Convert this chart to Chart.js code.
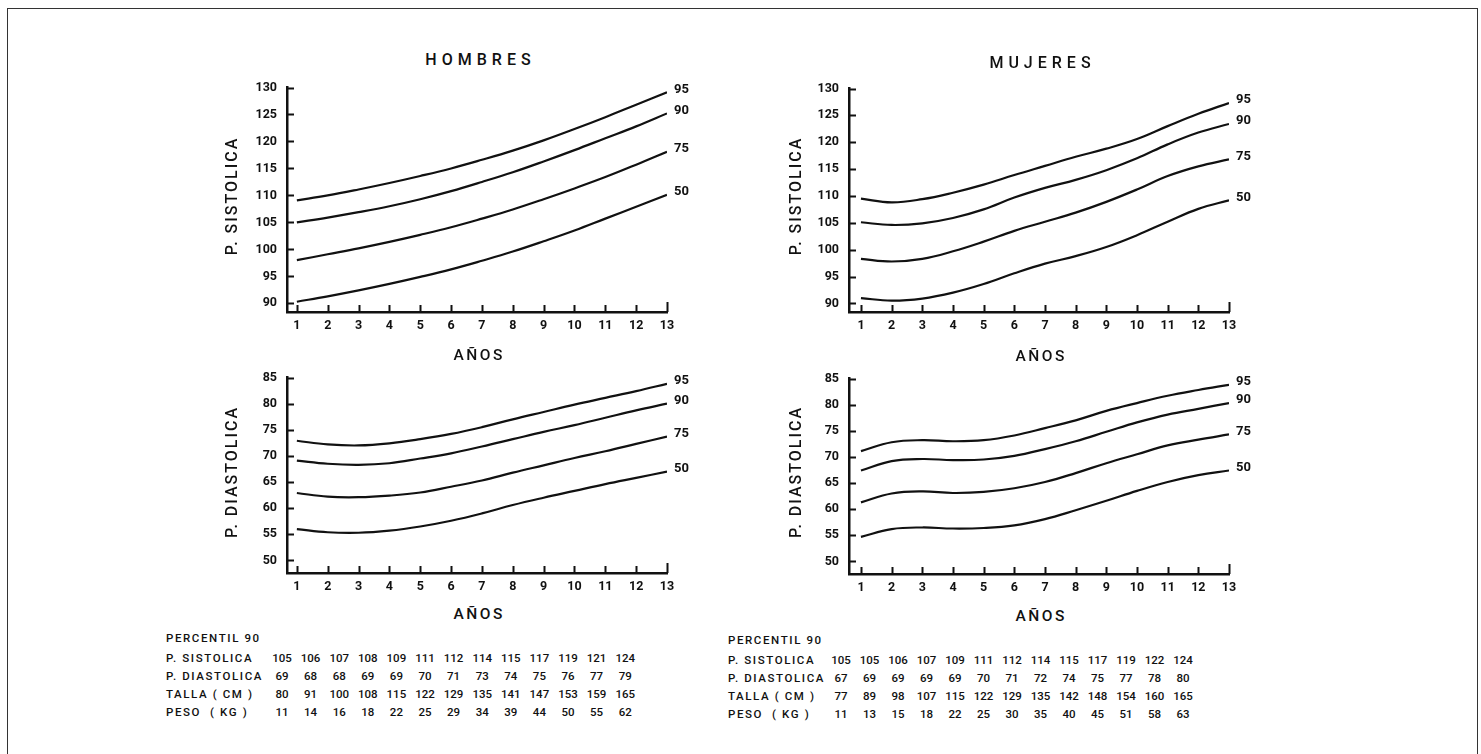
<!DOCTYPE html>
<html>
<head>
<meta charset="utf-8">
<script src="https://cdn.jsdelivr.net/npm/chart.js@4.4.1/dist/chart.umd.min.js"></script>
<style>
    html, body { margin: 0; padding: 0; background: #fff; }
    body { width: 1481px; height: 754px; position: relative; overflow: hidden; font-family: Roboto, "Liberation Sans", Arial, sans-serif; color: #111; }
    #frame { position: absolute; left: 7px; top: 8px; width: 1471px; height: 760px; border: 1.5px solid #333; box-sizing: border-box; }
    canvas { position: absolute; }
    .lbl { position: absolute; white-space: nowrap; transform: translate(-50%, -50%); }
    .title { font-size: 16px; font-weight: 500; letter-spacing: 5px; padding-left: 5px; }
    .axis { font-size: 15.5px; font-weight: 500; letter-spacing: 2.5px; padding-left: 2.5px; }
    .ytitle { font-size: 16px; font-weight: 500; letter-spacing: 2px; padding-left: 2px; transform: translate(-50%, -50%) rotate(-90deg); }
    .trow { position: absolute; font-size: 11.5px; font-weight: 500; letter-spacing: 1.6px; white-space: pre; transform: translateY(-50%); }
    .tnum { position: absolute; font-size: 11.5px; font-weight: 500; white-space: nowrap; transform: translate(-50%, -50%); }
</style>
</head>
<body>
<div id="frame"></div>
<canvas id="hombres-sis"></canvas>
<canvas id="mujeres-sis"></canvas>
<canvas id="hombres-dia"></canvas>
<canvas id="mujeres-dia"></canvas>
<script>
var years = [1, 2, 3, 4, 5, 6, 7, 8, 9, 10, 11, 12, 13];
var sisTicks = [90, 95, 100, 105, 110, 115, 120, 125, 130];
var diaTicks = [50, 55, 60, 65, 70, 75, 80, 85];
var percentiles = ['95', '90', '75', '50'];

// HOMBRES - presion sistolica
var hombresSis95 = [109.1, 110.0, 111.1, 112.3, 113.6, 115.0, 116.6, 118.3, 120.2, 122.3, 124.5, 126.8, 129.1];
var hombresSis90 = [105.0, 105.9, 106.9, 108.0, 109.3, 110.8, 112.5, 114.3, 116.3, 118.4, 120.6, 122.8, 125.2];
var hombresSis75 = [98.0, 99.1, 100.2, 101.4, 102.7, 104.1, 105.7, 107.4, 109.3, 111.3, 113.4, 115.7, 118.1];
var hombresSis50 = [90.3, 91.3, 92.4, 93.6, 94.9, 96.3, 97.9, 99.6, 101.5, 103.5, 105.7, 107.9, 110.1];

// MUJERES - presion sistolica
var mujeresSis95 = [109.5, 108.8, 109.4, 110.6, 112.1, 113.9, 115.6, 117.3, 118.8, 120.6, 123.0, 125.3, 127.3];
var mujeresSis90 = [105.1, 104.6, 104.9, 105.9, 107.5, 109.7, 111.5, 113.0, 114.8, 117.0, 119.6, 121.8, 123.4];
var mujeresSis75 = [98.3, 97.8, 98.3, 99.7, 101.5, 103.5, 105.2, 106.9, 108.9, 111.2, 113.7, 115.5, 116.8];
var mujeresSis50 = [91.0, 90.5, 90.9, 92.0, 93.6, 95.6, 97.4, 98.8, 100.5, 102.7, 105.2, 107.6, 109.2];

// HOMBRES - presion diastolica
var hombresDia95 = [72.9, 72.2, 72.0, 72.4, 73.2, 74.2, 75.5, 77.0, 78.4, 79.8, 81.1, 82.4, 83.8];
var hombresDia90 = [69.1, 68.5, 68.3, 68.6, 69.5, 70.5, 71.8, 73.2, 74.6, 75.9, 77.3, 78.7, 80.0];
var hombresDia75 = [62.9, 62.2, 62.1, 62.4, 63.0, 64.1, 65.3, 66.8, 68.2, 69.6, 70.9, 72.3, 73.7];
var hombresDia50 = [56.0, 55.4, 55.3, 55.7, 56.5, 57.6, 59.0, 60.6, 62.0, 63.3, 64.6, 65.8, 67.0];

// MUJERES - presion diastolica
var mujeresDia95 = [71.1, 72.8, 73.2, 73.0, 73.2, 74.1, 75.5, 77.0, 78.8, 80.3, 81.7, 82.8, 83.8];
var mujeresDia90 = [67.4, 69.2, 69.6, 69.4, 69.5, 70.2, 71.5, 73.0, 74.8, 76.6, 78.1, 79.2, 80.3];
var mujeresDia75 = [61.3, 63.0, 63.4, 63.1, 63.3, 64.0, 65.2, 66.9, 68.8, 70.5, 72.2, 73.3, 74.3];
var mujeresDia50 = [54.7, 56.2, 56.5, 56.3, 56.4, 56.9, 58.1, 59.8, 61.6, 63.5, 65.2, 66.5, 67.4];

// tablas percentil 90
var tablaFilas = ['P. SISTOLICA', 'P. DIASTOLICA', 'TALLA ( CM )', 'PESO  ( KG )'];
var hombresTablaSis = [105, 106, 107, 108, 109, 111, 112, 114, 115, 117, 119, 121, 124];
var hombresTablaDia = [69, 68, 68, 69, 69, 70, 71, 73, 74, 75, 76, 77, 79];
var hombresTalla = [80, 91, 100, 108, 115, 122, 129, 135, 141, 147, 153, 159, 165];
var hombresPeso = [11, 14, 16, 18, 22, 25, 29, 34, 39, 44, 50, 55, 62];
var mujeresTablaSis = [105, 105, 106, 107, 109, 111, 112, 114, 115, 117, 119, 122, 124];
var mujeresTablaDia = [67, 69, 69, 69, 69, 70, 71, 72, 74, 75, 77, 78, 80];
var mujeresTalla = [77, 89, 98, 107, 115, 122, 129, 135, 142, 148, 154, 160, 165];
var mujeresPeso = [11, 13, 15, 18, 22, 25, 30, 35, 40, 45, 51, 58, 63];

var PercentilCharts = {

    ink: '#111',
    tickFont: { family: 'Roboto', size: 12.5, weight: 'bold' },

    init: function() {
        this.makeChart('hombres-sis', { left: 200, top: 70, w: 520, h: 270, xH: 28, xMin: 0.68 },
            [hombresSis95, hombresSis90, hombresSis75, hombresSis50], sisTicks, 88.4, 130);
        this.makeChart('mujeres-sis', { left: 762, top: 71, w: 520, h: 270, xH: 29, xMin: 0.61 },
            [mujeresSis95, mujeresSis90, mujeresSis75, mujeresSis50], sisTicks, 88.4, 130);
        this.makeChart('hombres-dia', { left: 200, top: 360, w: 520, h: 240, xH: 27, xMin: 0.68 },
            [hombresDia95, hombresDia90, hombresDia75, hombresDia50], diaTicks, 47.6, 85);
        this.makeChart('mujeres-dia', { left: 762, top: 361, w: 520, h: 240, xH: 27, xMin: 0.61 },
            [mujeresDia95, mujeresDia90, mujeresDia75, mujeresDia50], diaTicks, 47.6, 85);

        this.addText('HOMBRES', 478, 59, 'title');
        this.addText('MUJERES', 1040, 62, 'title');
        this.addText('AÑOS', 478, 355, 'axis');
        this.addText('AÑOS', 1040, 356, 'axis');
        this.addText('AÑOS', 478, 614, 'axis');
        this.addText('AÑOS', 1040, 616, 'axis');
        this.addText('P. SISTOLICA', 231, 197, 'ytitle');
        this.addText('P. SISTOLICA', 795, 197, 'ytitle');
        this.addText('P. DIASTOLICA', 231, 473, 'ytitle');
        this.addText('P. DIASTOLICA', 795, 473, 'ytitle');

        this.makeTable(166, 282, 28.6, [638, 658, 676, 694, 712],
            [hombresTablaSis, hombresTablaDia, hombresTalla, hombresPeso]);
        this.makeTable(728, 841, 28.5, [640, 660, 678, 696, 714],
            [mujeresTablaSis, mujeresTablaDia, mujeresTalla, mujeresPeso]);
    },

    addText: function(text, x, y, cls) {
        var el = document.createElement('div');
        el.className = 'lbl ' + cls;
        el.style.left = x + 'px';
        el.style.top = y + 'px';
        el.textContent = text;
        document.body.appendChild(el);
    },

    makeTable: function(labelX, firstCol, colStep, rowY, rows) {
        var head = document.createElement('div');
        head.className = 'trow';
        head.style.left = labelX + 'px';
        head.style.top = rowY[0] + 'px';
        head.textContent = 'PERCENTIL 90';
        document.body.appendChild(head);

        rows.forEach(function(values, r) {
            var lab = document.createElement('div');
            lab.className = 'trow';
            lab.style.left = labelX + 'px';
            lab.style.top = rowY[r + 1] + 'px';
            lab.textContent = tablaFilas[r];
            document.body.appendChild(lab);

            values.forEach(function(v, i) {
                var num = document.createElement('div');
                num.className = 'tnum';
                num.style.left = (firstCol + colStep * i) + 'px';
                num.style.top = rowY[r + 1] + 'px';
                num.textContent = v;
                document.body.appendChild(num);
            });
        });
    },

    // marcas hacia dentro del area, como en el original
    inwardTicks: {
        id: 'inwardTicks',
        afterDraw: function(chart) {
            var ctx = chart.ctx;
            var area = chart.chartArea;
            var xs = chart.scales.x;
            var ys = chart.scales.y;
            ctx.save();
            ctx.strokeStyle = PercentilCharts.ink;
            ctx.lineWidth = 2;
            ctx.beginPath();
            xs.ticks.forEach(function(t, i) {
                var px = Math.round(xs.getPixelForValue(t.value)) + 0.5;
                var len = i === xs.ticks.length - 1 ? 10 : 7;
                ctx.moveTo(px, area.bottom);
                ctx.lineTo(px, area.bottom - len);
            });
            ys.ticks.forEach(function(t) {
                var py = Math.round(ys.getPixelForValue(t.value)) + 0.5;
                ctx.moveTo(area.left, py);
                ctx.lineTo(area.left + 7, py);
            });
            ctx.stroke();
            ctx.restore();
        }
    },

    curveLabels: {
        id: 'curveLabels',
        afterDatasetsDraw: function(chart) {
            var ctx = chart.ctx;
            ctx.save();
            ctx.fillStyle = PercentilCharts.ink;
            ctx.font = 'bold 13px Roboto';
            ctx.textBaseline = 'middle';
            ctx.textAlign = 'left';
            chart.data.datasets.forEach(function(ds, i) {
                var pts = chart.getDatasetMeta(i).data;
                var last = pts[pts.length - 1];
                ctx.fillText(ds.label, last.x + 7, last.y - 3);
            });
            ctx.restore();
        }
    },

    makeChart: function(id, box, series, yTicks, yMin, yMax) {
        var canvas = document.getElementById(id);
        canvas.width = box.w;
        canvas.height = box.h;
        canvas.style.left = box.left + 'px';
        canvas.style.top = box.top + 'px';
        canvas.style.width = box.w + 'px';
        canvas.style.height = box.h + 'px';

        var self = this;
        var datasets = series.map(function(values, i) {
            return {
                label: percentiles[i],
                data: years.map(function(x, j) { return { x: x, y: values[j] }; }),
                borderColor: self.ink,
                borderWidth: 2.2,
                pointRadius: 0,
                tension: 0.4,
                fill: false
            };
        });

        new Chart(canvas, {
            type: 'line',
            data: { datasets: datasets },
            plugins: [this.inwardTicks, this.curveLabels],
            options: {
                responsive: false,
                animation: false,
                devicePixelRatio: 1,
                layout: { padding: { top: 12, right: 53, left: 0, bottom: 0 } },
                plugins: {
                    legend: { display: false },
                    tooltip: { enabled: false }
                },
                scales: {
                    x: {
                        type: 'linear',
                        min: box.xMin,
                        max: 13,
                        afterBuildTicks: function(s) {
                            s.ticks = years.map(function(v) { return { value: v }; });
                        },
                        afterFit: function(s) { s.height = box.xH; },
                        grid: { display: true, drawOnChartArea: false, drawTicks: false },
                        border: { display: true, color: self.ink, width: 2.5 },
                        ticks: { padding: 6, color: self.ink, font: self.tickFont, maxRotation: 0, autoSkip: false }
                    },
                    y: {
                        type: 'linear',
                        min: yMin,
                        max: yMax,
                        afterBuildTicks: function(s) {
                            s.ticks = yTicks.map(function(v) { return { value: v }; });
                        },
                        afterFit: function(s) { s.width = 87; },
                        grid: { display: true, drawOnChartArea: false, drawTicks: false },
                        border: { display: true, color: self.ink, width: 2.5 },
                        ticks: { padding: 10, color: self.ink, font: self.tickFont, autoSkip: false }
                    }
                }
            }
        });
    }
};

PercentilCharts.init();
</script>
</body>
</html>
